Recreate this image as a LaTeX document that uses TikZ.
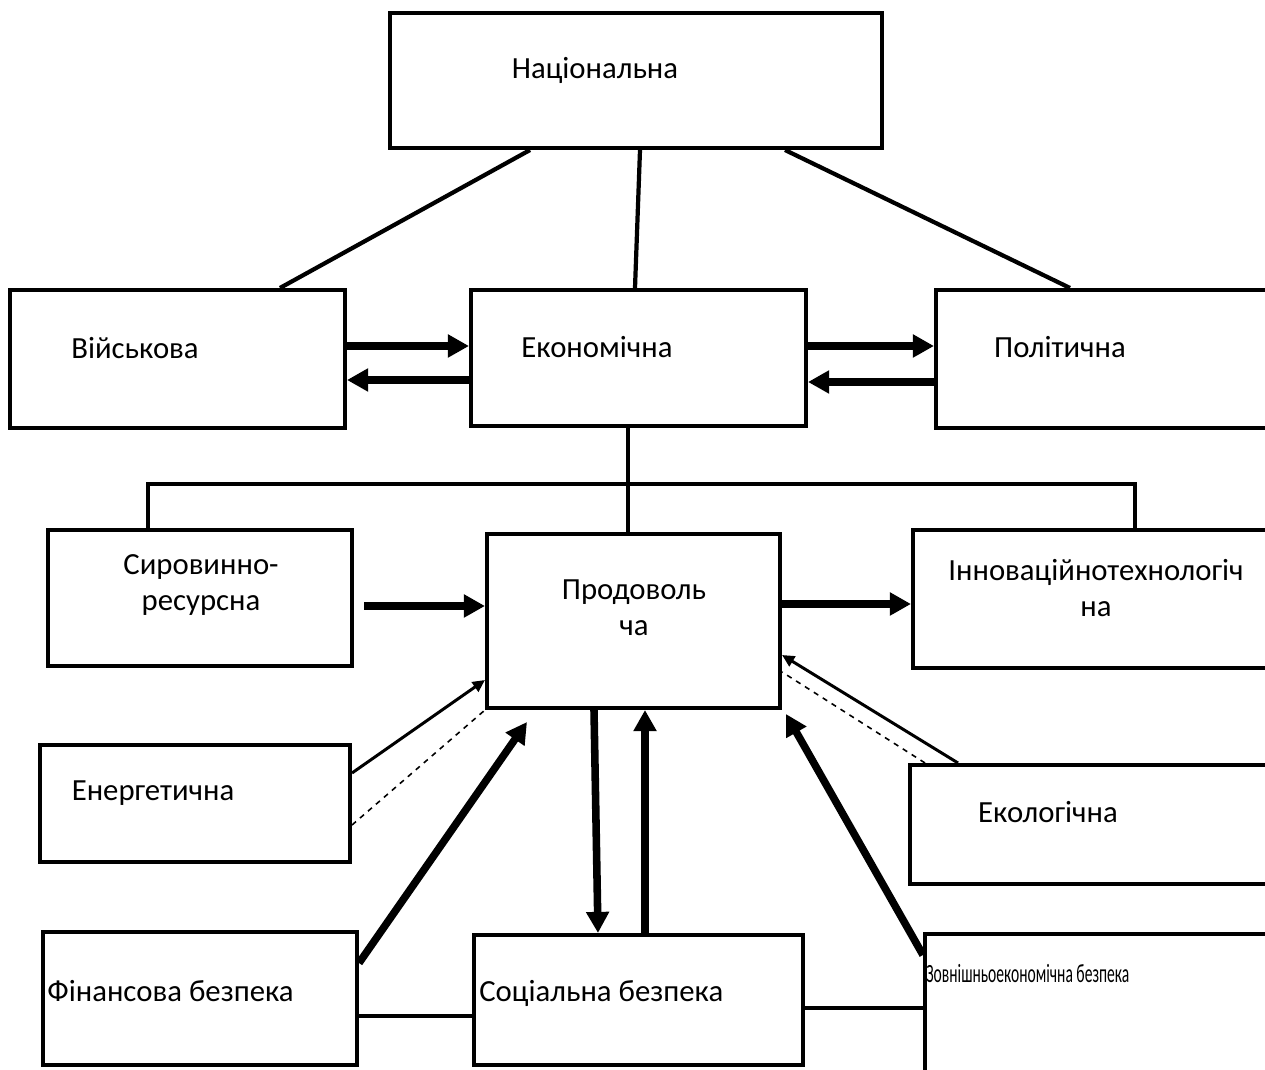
\documentclass[tikz,border=0pt]{standalone}
\usepackage{fontspec}
\setmainfont{Carlito}
\usetikzlibrary{arrows.meta,positioning,calc,fit}
\tikzset{
  blok/.style={draw, line width=2.3pt, inner sep=0pt},
  napys/.style={font=\fontsize{17.5}{20.5}\selectfont, align=center, inner sep=0pt},
  dribno/.style={font=\fontsize{15}{18}\selectfont, inner sep=0pt},
  lin/.style={line width=2.4pt},
  tovsta/.style={-{Triangle[length=12pt, width=12.5pt]}, line width=4.3pt},
  tonka/.style={-{Triangle[length=7pt, width=6.5pt]}, line width=1.7pt},
  punkt/.style={dashed, line width=0.9pt},
}
\begin{document}
\begin{tikzpicture}[x=0.02cm, y=-0.02cm]
  \clip (0,0) rectangle (1265,1070);
  % boxes
  \node[blok, fit={(390,13) (882,148)}] (nat) {};
  \node[blok, fit={(10,290) (345,428)}] (vij) {};
  \node[blok, fit={(471,290) (806,426)}] (eko) {};
  \node[blok, fit={(936,290) (1295,428)}] (pol) {};
  \node[blok, fit={(48,530) (352,666)}] (syr) {};
  \node[blok, fit={(487,534) (780,708)}] (prod) {};
  \node[blok, fit={(913,530) (1295,668)}] (inn) {};
  \node[blok, fit={(40,745) (350,862)}] (ener) {};
  \node[blok, fit={(910,765) (1295,884)}] (ekol) {};
  \node[blok, fit={(43,932) (357,1065)}] (fin) {};
  \node[blok, fit={(474,935) (803,1065)}] (soc) {};
  \node[blok, fit={(925,934) (1295,1100)}] (zovn) {};
  % texts
  \node[napys] (tnat) at (595,70) {Національна};
  \node[napys] (tvij) at (135,348) {Військова};
  \node[napys] (teko) at (597,347) {Економічна};
  \node[napys] (tpol) at (1060,347) {Політична};
  \node[napys] (tsyr) at (201,585) {Сировинно-\\ресурсна};
  \node[napys] (tprod) at (634,608) {Продоволь\\ча};
  \node[napys] (tinn) at (1096,588) {Інноваційнотехнологіч\\на};
  \node[napys] (tener) at (153,793) {Енергетична};
  \node[napys] (tekol) at (1048,812) {Екологічна};
  \node[napys, anchor=west] (tfin) at (47,991) {Фінансова безпека};
  \node[napys, anchor=west] (tsoc) at (479,993) {Соціальна безпека};
  \node[dribno, anchor=west] (tzovn) at (926,974) {\scalebox{0.59}[1]{Зовнішньоекономічна безпека}};
  % free ends
  \coordinate (finkin) at (527,722);
  \coordinate (zovnkin) at (786,714);
  % connectors from the top
  \draw[lin] (530,0 |- nat.south) -- (280,0 |- vij.north);
  \draw[lin] (640,0 |- nat.south) -- (635,0 |- eko.north);
  \draw[lin] (785,0 |- nat.south) -- (1070,0 |- pol.north);
  \draw[tovsta] (vij.east |- 0,346) -- (eko.west |- 0,346);
  \draw[tovsta] (eko.west |- 0,380) -- (vij.east |- 0,380);
  \draw[tovsta] (eko.east |- 0,346) -- (pol.west |- 0,346);
  \draw[tovsta] (pol.west |- 0,382) -- (eko.east |- 0,382);
  \draw[lin] (628,0 |- eko.south) -- (628,0 |- prod.north);
  \draw[lin] (148,0 |- syr.north) |- (1135,484) -- (1135,0 |- inn.north);
  % around the food box
  \draw[tovsta, shorten <=0.2cm] (syr.east |- 0,606) -- (prod.west |- 0,606);
  \draw[tovsta] (prod.east |- 0,604) -- (inn.west |- 0,604);
  \draw[tonka] (ener.east |- 0,773) -- (prod.west |- 0,680);
  \draw[punkt] (ener.east |- 0,825) -- (prod.south west);
  \draw[tovsta] (fin.east |- 0,963) -- (finkin);
  \draw[tovsta] (594,0 |- prod.south) -- (598,0 |- soc.north);
  \draw[tovsta] (645,0 |- soc.north) -- (645,0 |- prod.south);
  \draw[tonka] (958,0 |- ekol.north) -- (prod.east |- 0,655);
  \draw[punkt] (925,0 |- ekol.north) -- (prod.east |- 0,672);
  \draw[tovsta] (zovn.west |- 0,955) -- (zovnkin);
  \draw[lin] (fin.east |- 0,1016) -- (soc.west |- 0,1016);
  \draw[lin] (soc.east |- 0,1008) -- (zovn.west |- 0,1008);
\end{tikzpicture}
\end{document}
